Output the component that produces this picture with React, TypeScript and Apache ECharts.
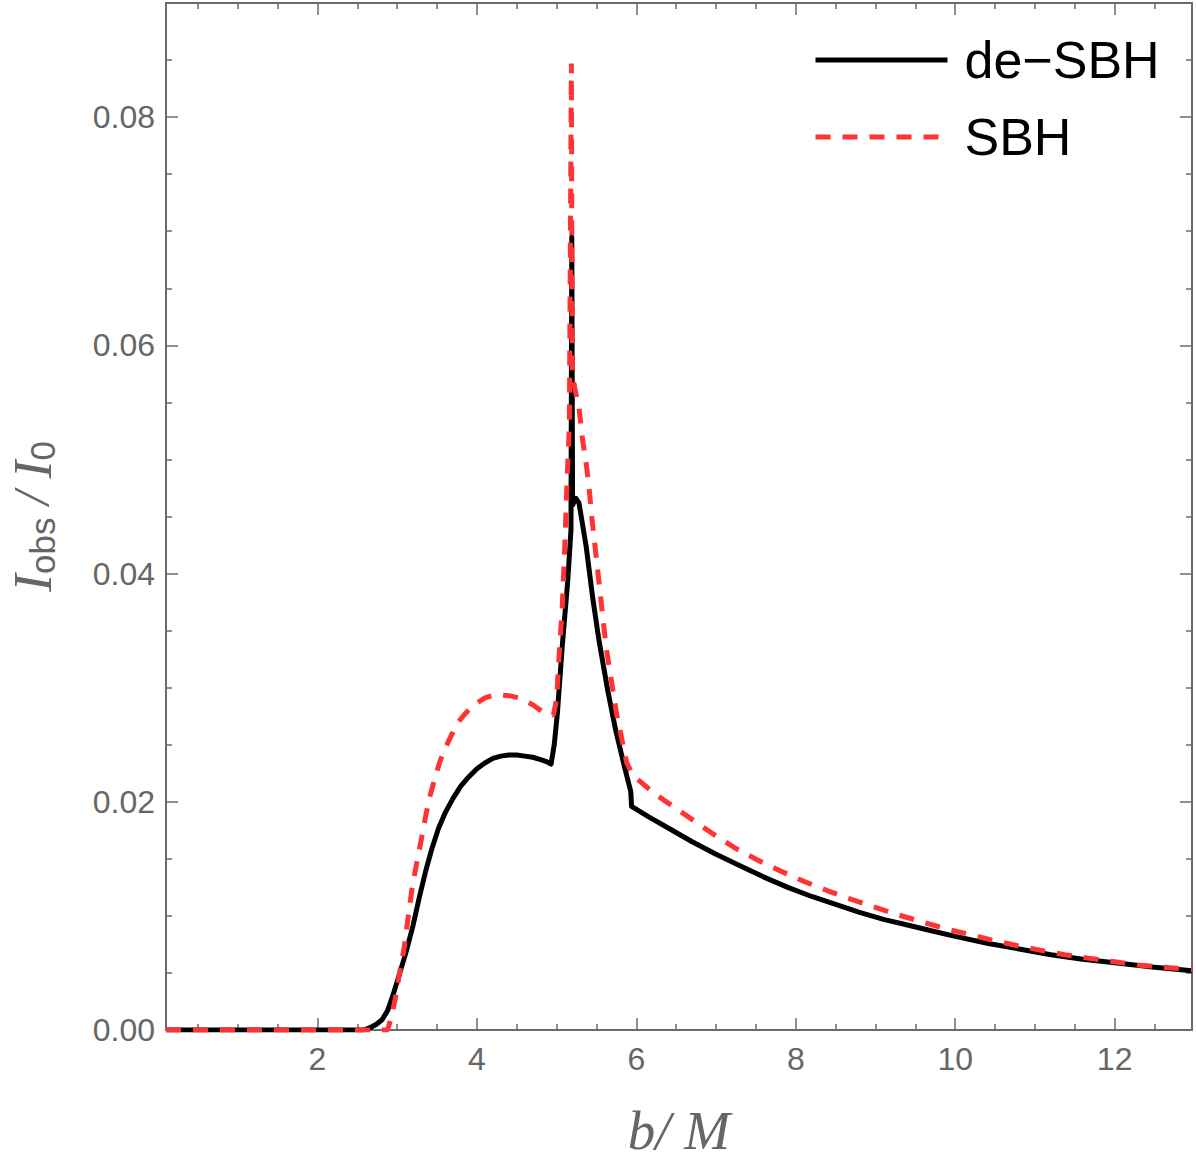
import { useEffect, useRef } from "react";
import * as echarts from "echarts";

// b/M values and I_obs/I_0 values
const deSbhB = [0.1, 2.58, 2.66, 2.74, 2.81, 2.88, 2.94, 3.02, 3.11, 3.2, 3.28, 3.36, 3.44, 3.52, 3.6, 3.7, 3.8, 3.9, 4.0, 4.1, 4.2, 4.3, 4.4, 4.5, 4.6, 4.7, 4.8, 4.88, 4.93, 4.97, 5.01, 5.07, 5.14, 5.18, 5.19, 5.2, 5.24, 5.28, 5.37, 5.45, 5.53, 5.64, 5.74, 5.85, 5.93, 5.94, 6.15, 6.4, 6.7, 7.0, 7.3, 7.6, 7.9, 8.2, 8.5, 8.8, 9.1, 9.4, 9.7, 10.0, 10.4, 10.8, 11.2, 11.6, 12.0, 12.5, 12.97];
const deSbhI = [0, 0, 0.0002, 0.0005, 0.0009, 0.0017, 0.0029, 0.0047, 0.0068, 0.0092, 0.0117, 0.014, 0.016, 0.0177, 0.019, 0.0203, 0.0214, 0.0222, 0.0229, 0.0234, 0.0238, 0.024, 0.0241, 0.0241, 0.024, 0.0239, 0.0237, 0.0235, 0.0233, 0.025, 0.0278, 0.0336, 0.0394, 0.0438, 0.0695, 0.046, 0.0466, 0.0462, 0.0424, 0.038, 0.0342, 0.0298, 0.0263, 0.0231, 0.0209, 0.0196, 0.0187, 0.0177, 0.0165, 0.0154, 0.0144, 0.0134, 0.0125, 0.0117, 0.011, 0.0103, 0.0097, 0.0092, 0.0087, 0.0082, 0.0076, 0.0071, 0.0066, 0.0062, 0.0059, 0.0055, 0.0052];

const sbhB = [0.1, 2.88, 2.93, 2.98, 3.03, 3.09, 3.14, 3.19, 3.25, 3.3, 3.35, 3.4, 3.47, 3.53, 3.59, 3.65, 3.72, 3.78, 3.85, 3.92, 3.99, 4.1, 4.24, 4.4, 4.53, 4.7, 4.82, 4.9, 4.96, 5.0, 5.03, 5.07, 5.1, 5.13, 5.16, 5.185, 5.195, 5.22, 5.25, 5.28, 5.32, 5.37, 5.41, 5.44, 5.51, 5.62, 5.75, 5.88, 5.96, 6.23, 6.46, 6.73, 6.98, 7.25, 7.52, 7.82, 8.11, 8.4, 8.68, 8.97, 9.28, 9.57, 9.87, 10.16, 10.45, 10.77, 11.06, 11.37, 11.67, 11.98, 12.29, 12.6, 12.97];
const sbhI = [0, 0, 0.0012, 0.0029, 0.005, 0.0073, 0.01, 0.0126, 0.0148, 0.0166, 0.0185, 0.0202, 0.022, 0.0234, 0.0245, 0.0254, 0.0264, 0.0271, 0.0277, 0.0282, 0.0286, 0.0291, 0.0294, 0.0293, 0.0291, 0.0285, 0.0279, 0.0277, 0.0276, 0.029, 0.0327, 0.037, 0.042, 0.048, 0.053, 0.0847, 0.058, 0.0565, 0.0555, 0.0546, 0.052, 0.0497, 0.0473, 0.045, 0.0406, 0.0336, 0.0278, 0.0234, 0.0223, 0.0207, 0.0196, 0.0183, 0.0171, 0.0159, 0.0149, 0.0139, 0.013, 0.0122, 0.0115, 0.0108, 0.0101, 0.0095, 0.0089, 0.0084, 0.0079, 0.0074, 0.007, 0.0066, 0.0063, 0.006, 0.0057, 0.0055, 0.0053];

const seriesNames = ["de\u2212SBH", "SBH"];

const xMajorTicks = [2, 4, 6, 8, 10, 12];
const xMinorTicks = [0.5, 1, 1.5, 2.5, 3, 3.5, 4.5, 5, 5.5, 6.5, 7, 7.5, 8.5, 9, 9.5, 10.5, 11, 11.5, 12.5];
const yMajorTicks = [0, 0.02, 0.04, 0.06, 0.08];
const yMinorTicks = [0.005, 0.01, 0.015, 0.025, 0.03, 0.035, 0.045, 0.05, 0.055, 0.065, 0.07, 0.075, 0.085];

const X_MIN = 0.1;
const X_MAX = 12.97;
const Y_MIN = 0;
const Y_MAX = 0.09;

const FRAME = "#6b6b6b";
const LABEL = "#666666";
const SANS = "'Liberation Sans', Arial, sans-serif";
const SERIF = "'Liberation Serif', 'Times New Roman', serif";

const zip = (xs: number[], ys: number[]) => xs.map((x, i) => [x, ys[i]]);

function makeAxis(
  dim: "x" | "y",
  position: string,
  ticks: number[],
  len: number,
  showLine: boolean,
  labels: boolean,
  extra: any = {}
) {
  return {
    type: "value",
    position,
    min: dim === "x" ? X_MIN : Y_MIN,
    max: dim === "x" ? X_MAX : Y_MAX,
    splitLine: { show: false },
    axisLine: { show: showLine, onZero: false, lineStyle: { color: FRAME, width: 2 } },
    axisTick: {
      show: true,
      inside: true,
      length: len,
      customValues: ticks,
      lineStyle: { color: FRAME, width: 1.5 },
    },
    axisLabel: labels
      ? {
          show: true,
          customValues: ticks,
          color: LABEL,
          fontFamily: SANS,
          fontSize: 32,
          margin: dim === "x" ? 13 : 11,
          formatter: (v: number) => (dim === "x" ? String(v) : v.toFixed(2)),
        }
      : { show: false },
    ...extra,
  };
}

export default function App() {
  const ref = useRef<HTMLDivElement>(null);

  useEffect(() => {
    document.body.style.margin = "0";
    if (!ref.current) return;
    const chart = echarts.init(ref.current, undefined, { renderer: "svg" });

    const option: any = {
      animation: false,
      backgroundColor: "#ffffff",
      grid: {
        left: 166,
        top: 3,
        width: 1026,
        height: 1027,
        containLabel: false,
        outerBoundsMode: "none",
      },
      legend: {
        orient: "vertical",
        left: 808,
        top: 26,
        itemWidth: 132,
        itemHeight: 14,
        itemGap: 19,
        selectedMode: false,
        data: seriesNames,
        itemStyle: { opacity: 0 },
        lineStyle: { width: 5 },
        textStyle: {
          fontSize: 52,
          color: "#000",
          fontFamily: SANS,
          lineHeight: 58,
          padding: [0, 0, 0, 12],
        },
      },
      xAxis: [
        makeAxis("x", "bottom", xMajorTicks, 12, true, true, {
          name: "b/ M",
          nameLocation: "middle",
          nameGap: 73,
          nameTextStyle: {
            fontFamily: SERIF,
            fontStyle: "italic",
            fontSize: 55,
            color: LABEL,
          },
        }),
        makeAxis("x", "bottom", xMinorTicks, 6, false, false),
        makeAxis("x", "top", xMajorTicks, 12, true, false),
        makeAxis("x", "top", xMinorTicks, 6, false, false),
      ],
      yAxis: [
        makeAxis("y", "left", yMajorTicks, 12, true, true, {
          name: "{i|I}{s|obs}{n| / }{i|I}{s|0}",
          nameLocation: "middle",
          nameRotate: 90,
          nameGap: 106,
          nameTextStyle: {
            color: LABEL,
            rich: {
              i: {
                fontFamily: SERIF,
                fontStyle: "italic",
                fontSize: 54,
                color: LABEL,
                lineHeight: 54,
                verticalAlign: "top",
                padding: [0, 0, 6, 0],
              },
              n: {
                fontFamily: SERIF,
                fontStyle: "italic",
                fontSize: 50,
                color: LABEL,
                lineHeight: 54,
                verticalAlign: "top",
                padding: [0, 0, 6, 0],
              },
              s: {
                fontFamily: SANS,
                fontSize: 35,
                color: LABEL,
                lineHeight: 35,
                verticalAlign: "bottom",
              },
            },
          },
        }),
        makeAxis("y", "left", yMinorTicks, 6, false, false),
        makeAxis("y", "right", yMajorTicks, 12, true, false),
        makeAxis("y", "right", yMinorTicks, 6, false, false),
      ],
      series: [
        {
          name: seriesNames[0],
          type: "line",
          xAxisIndex: 0,
          yAxisIndex: 0,
          data: zip(deSbhB, deSbhI),
          symbol: "none",
          showSymbol: false,
          smooth: false,
          lineStyle: { color: "#000000", width: 5, join: "round" },
          itemStyle: { color: "#000000" },
          z: 3,
        },
        {
          name: seriesNames[1],
          type: "line",
          xAxisIndex: 0,
          yAxisIndex: 0,
          data: zip(sbhB, sbhI),
          symbol: "none",
          showSymbol: false,
          smooth: false,
          lineStyle: { color: "#ff3333", width: 5, type: [15, 12], cap: "butt" },
          itemStyle: { color: "#ff3333" },
          z: 4,
        },
      ],
    };

    chart.setOption(option);
    return () => chart.dispose();
  }, []);

  return <div ref={ref} style={{ width: 1196, height: 1170 }} />;
}
